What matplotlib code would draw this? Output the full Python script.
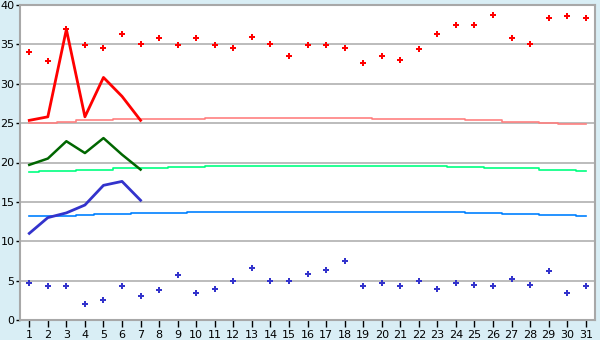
import matplotlib
matplotlib.use("Agg")
import matplotlib.pyplot as plt

days = list(range(1, 32))

# daily observed highs / lows (dots)
high_pts = [34.0, 32.9, 36.9, 34.9, 34.6, 36.3, 35.1, 35.8, 34.9, 35.8,
            34.9, 34.6, 35.9, 35.0, 33.5, 34.9, 34.9, 34.5, 32.6, 33.5,
            33.0, 34.4, 36.3, 37.5, 37.5, 38.7, 35.8, 35.0, 38.4, 38.6, 38.3]
low_pts = [4.75, 4.3, 4.3, 2.0, 2.5, 4.3, 3.1, 3.8, 5.7, 3.4,
           4.0, 5.0, 6.6, 5.0, 5.0, 5.8, 6.3, 7.45, 4.3, 4.65,
           4.3, 5.0, 4.0, 4.65, 4.4, 4.3, 5.15, 4.4, 6.2, 3.4, 4.3]

# current-week lines (days 1-7)
week_days = [1, 2, 3, 4, 5, 6, 7]
week_high = [25.35, 25.8, 36.9, 25.8, 30.8, 28.4, 25.35]
week_mid = [19.7, 20.5, 22.7, 21.2, 23.1, 21.0, 19.1]
week_low = [11.0, 13.0, 13.6, 14.6, 17.1, 17.6, 15.2]

# normals (step lines)
norm_high = [25.05, 25.05, 25.2, 25.35, 25.35] + [25.5] * 5 + [25.65] * 9 + \
            [25.5] * 5 + [25.35] * 2 + [25.2] * 2 + [25.05] + [24.95] * 2
norm_mid = [18.75, 18.87, 18.87, 19.0, 19.1, 19.25, 19.25, 19.25, 19.4, 19.4] + \
           [19.5] * 4 + [19.6] * 5 + [19.5] * 4 + [19.4] * 2 + [19.25] * 3 + \
           [19.1, 19.0, 18.87]
norm_low = [13.15] * 3 + [13.3] + [13.4] * 2 + [13.55] * 3 + [13.7] * 15 + \
           [13.55] * 2 + [13.4] * 2 + [13.3] * 2 + [13.15]

fig = plt.figure(figsize=(6, 3.4), dpi=100)
fig.patch.set_facecolor("#d9eef5")
ax = fig.add_axes([20 / 600, 20 / 340, 575 / 600, 315 / 340])
ax.set_facecolor("white")

for y in range(5, 40, 5):
    ax.axhline(y, color="#b0b0b0", lw=1.2, zorder=1)

ax.plot(days, norm_high, drawstyle="steps-mid", color="#ff8080", lw=1.2, zorder=2)
ax.plot(days, norm_mid, drawstyle="steps-mid", color="#00ff80", lw=1.2, zorder=2)
ax.plot(days, norm_low, drawstyle="steps-mid", color="#0080ff", lw=1.2, zorder=2)

ax.plot(week_days, week_high, color="#ff0000", lw=2, zorder=3)
ax.plot(week_days, week_mid, color="#006600", lw=1.8, zorder=3)
ax.plot(week_days, week_low, color="#3333cc", lw=2, zorder=3)

ax.plot(days, high_pts, "P", color="#ff0000", ms=4.5, mew=0, ls="none", zorder=4)
ax.plot(days, low_pts, "P", color="#3333cc", ms=4.5, mew=0, ls="none", zorder=4)

ax.set_xlim(0.5, 31.5)
ax.set_ylim(0, 40)
ax.set_xticks(days)
ax.set_yticks(range(0, 41, 5))
ax.tick_params(axis="x", length=5, width=1, color="black", labelsize=8, pad=2)
ax.tick_params(axis="y", length=3, width=1, color="black", labelsize=8, pad=1)
for s in ax.spines.values():
    s.set_color("#a8a8a8")
    s.set_linewidth(1.5)

fig.savefig("out.png", dpi=100, facecolor=fig.get_facecolor())
